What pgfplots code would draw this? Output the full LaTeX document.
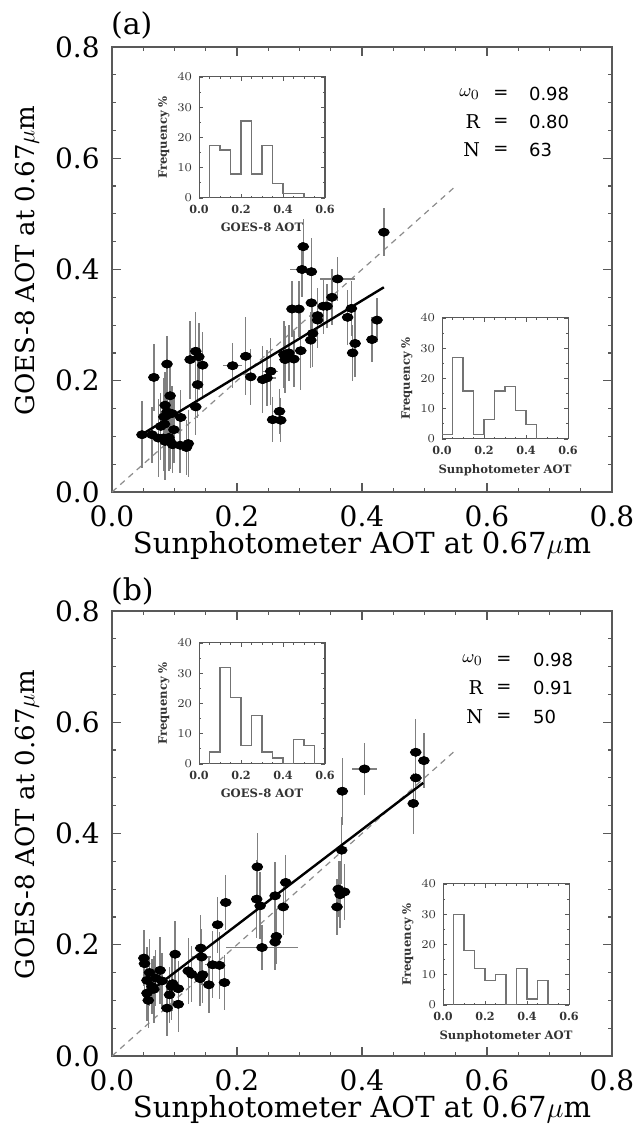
\documentclass[border=0pt]{standalone}
\usepackage{fontspec}
\setmainfont{DejaVu Serif}
\newfontfamily\sansf{DejaVu Sans}
\usepackage{pgfplots}
\usepackage{pgfplotstable}
\pgfplotsset{compat=1.18}

\definecolor{framegray}{gray}{0.35}
\definecolor{errgray}{gray}{0.5}
\definecolor{histgray}{gray}{0.45}
\definecolor{dashgray}{gray}{0.55}

\pgfplotstableread{
x y ex ey
0.048 0.103 0 0.06
0.064 0.103 0 0.05
0.074 0.097 0 0.07
0.082 0.097 0 0.06
0.085 0.091 0 0.07
0.093 0.091 0 0.05
0.109 0.084 0 0.05
0.119 0.080 0 0.05
0.122 0.087 0 0.06
0.067 0.206 0 0.06
0.088 0.230 0 0.05
0.085 0.156 0 0.06
0.083 0.135 0 0.07
0.084 0.122 0 0.06
0.088 0.144 0 0.05
0.093 0.173 0 0.06
0.096 0.141 0 0.05
0.099 0.112 0 0.06
0.110 0.134 0 0.05
0.125 0.238 0 0.07
0.134 0.253 0.005 0.07
0.139 0.243 0 0.06
0.145 0.228 0 0.06
0.137 0.193 0 0.06
0.134 0.153 0 0.05
0.193 0.227 0.015 0.04
0.214 0.244 0 0.07
0.222 0.207 0 0.05
0.241 0.202 0 0.06
0.248 0.205 0.015 0.05
0.254 0.217 0.012 0.06
0.257 0.130 0 0.04
0.268 0.145 0 0.04
0.270 0.129 0 0.04
0.275 0.247 0.01 0.06
0.277 0.238 0.01 0.06
0.291 0.239 0 0.05
0.302 0.254 0 0.07
0.288 0.329 0 0.05
0.299 0.329 0 0.05
0.306 0.441 0 0.05
0.304 0.400 0.02 0.05
0.319 0.396 0 0.06
0.319 0.340 0 0.05
0.321 0.285 0 0.06
0.318 0.273 0 0.05
0.329 0.317 0 0.05
0.329 0.309 0 0.05
0.338 0.334 0 0.05
0.344 0.334 0 0.04
0.352 0.350 0 0.05
0.361 0.383 0.028 0.04
0.377 0.314 0 0.05
0.383 0.330 0 0.05
0.385 0.250 0 0.05
0.389 0.267 0 0.06
0.416 0.274 0 0.04
0.424 0.309 0 0.04
0.435 0.467 0 0.043
0.078 0.118 0 0.06
0.091 0.098 0 0.06
0.097 0.085 0 0.05
0.283 0.250 0 0.05
}\dataA

\pgfplotstableread{
x y ex ey
0.051 0.176 0 0.05
0.052 0.166 0 0.06
0.056 0.136 0 0.06
0.056 0.113 0 0.05
0.060 0.150 0 0.06
0.064 0.125 0 0.05
0.067 0.120 0 0.06
0.070 0.140 0 0.05
0.077 0.154 0 0.06
0.080 0.135 0 0.05
0.088 0.086 0 0.05
0.092 0.110 0 0.05
0.095 0.125 0 0.06
0.058 0.100 0 0.05
0.097 0.130 0 0.05
0.101 0.183 0 0.06
0.106 0.093 0 0.05
0.106 0.121 0 0.05
0.122 0.153 0 0.06
0.1275 0.147 0 0.05
0.141 0.139 0 0.05
0.142 0.194 0 0.06
0.1435 0.178 0.015 0.05
0.145 0.146 0 0.05
0.155 0.128 0 0.05
0.161 0.164 0.012 0.06
0.169 0.236 0 0.05
0.172 0.163 0 0.06
0.180 0.132 0 0.05
0.182 0.276 0 0.05
0.2315 0.282 0 0.07
0.2325 0.340 0 0.06
0.237 0.270 0 0.06
0.240 0.195 0.057 0.04
0.261 0.288 0 0.06
0.261 0.205 0 0.05
0.263 0.215 0 0.05
0.274 0.268 0 0.05
0.278 0.312 0 0.05
0.3675 0.370 0 0.06
0.3685 0.476 0 0.06
0.360 0.268 0 0.05
0.365 0.290 0 0.06
0.372 0.295 0 0.05
0.362 0.300 0 0.05
0.404 0.516 0.02 0.047
0.482 0.454 0 0.055
0.486 0.500 0.01 0.05
0.486 0.546 0 0.06
0.499 0.531 0 0.05
}\dataB

\pgfplotsset{
  mainax/.style={
    scale only axis, width=250pt, height=222.5pt,
    xmin=0, xmax=0.8, ymin=0, ymax=0.8,
    xtick={0,0.2,0.4,0.6,0.8}, ytick={0,0.2,0.4,0.6,0.8},
    xticklabels={0.0,0.2,0.4,0.6,0.8}, yticklabels={0.0,0.2,0.4,0.6,0.8},
    minor x tick num=3, minor y tick num=3,
    tick align=inside, major tick length=4.5pt, minor tick length=2.2pt,
    axis line style={framegray, line width=0.75pt},
    every tick/.style={framegray, line width=0.6pt},
    tick label style={font=\fontsize{14}{14}\selectfont, inner sep=1pt},
    xticklabel style={yshift=-5.5pt},
    yticklabel style={xshift=-5pt},
    xlabel={Sunphotometer AOT at 0.67$\mu$m},
    ylabel={GOES-8 AOT at 0.67$\mu$m},
    xlabel style={font=\fontsize{14.5}{14.5}\selectfont, inner sep=0pt, at={(axis description cs:0.5,-0.121)}, anchor=center},
    ylabel style={font=\fontsize{13}{13}\selectfont, inner sep=0pt, at={(axis description cs:-0.17,0.52)}, anchor=center},
    clip=false,
  },
  inset/.style={
    scale only axis, width=63pt, height=60.5pt,
    xmin=0, xmax=0.6, ymin=0, ymax=40,
    xtick={0,0.2,0.4,0.6}, xticklabels={0.0,0.2,0.4,0.6},
    ytick={0,10,20,30,40},
    minor x tick num=3, minor y tick num=1,
    tick align=inside, major tick length=2.2pt, minor tick length=1.1pt,
    axis line style={framegray, line width=0.5pt},
    every tick/.style={framegray, line width=0.4pt},
    tick label style={font=\fontsize{5.6}{6}\selectfont\bfseries, text=black!80},
    label style={font=\fontsize{5.8}{6}\selectfont\bfseries, text=black!80},
    ylabel={Frequency \%},
    xlabel style={yshift=2pt},
    ylabel style={yshift=-3pt},
  },
  errsty/.style={only marks, mark=none,
    error bars/.cd, x dir=both, x explicit, y dir=both, y explicit,
    error bar style={draw=errgray, line width=0.7pt}, error mark=none},
  ptsty/.style={only marks, mark=*, mark size=2.7pt, mark options={black, fill=black, yscale=0.72}},
  hist/.style={const plot, histgray, line width=0.65pt},
}

\begin{document}
\begin{tikzpicture}
\path[use as bounding box] (0,0) rectangle (320pt,566.5pt);

% ---------------- panel (a) ----------------
\begin{axis}[mainax, at={(56pt,320.5pt)}, anchor=south west]
\addplot[dashgray, dash pattern=on 3pt off 2.5pt, line width=0.6pt] coordinates {(0,0) (0.55,0.55)};
\addplot[errsty] table[x=x, y=y, x error=ex, y error=ey] {\dataA};
\addplot[black, line width=1.2pt] coordinates {(0.05,0.105) (0.435,0.368)};
\addplot[ptsty] table[x=x, y=y] {\dataA};
\end{axis}
\node[anchor=west, font=\fontsize{15}{15}\selectfont] at (52pt,554pt) {(a)};

\node[anchor=east, font=\fontsize{9.5}{9.5}\selectfont] at (243.5pt,519.5pt) {$\omega_0$};
\node[anchor=east, font=\fontsize{9.5}{9.5}\selectfont] at (243.5pt,505.5pt) {R};
\node[anchor=east, font=\fontsize{9.5}{9.5}\selectfont] at (243.5pt,491.5pt) {N};
\node[font=\sansf\fontsize{9}{9}\selectfont] at (250.5pt,519.5pt) {=};
\node[font=\sansf\fontsize{9}{9}\selectfont] at (250.5pt,505.5pt) {=};
\node[font=\sansf\fontsize{9}{9}\selectfont] at (250.5pt,491.5pt) {=};
\node[anchor=west, font=\sansf\fontsize{9}{9}\selectfont] at (261pt,519.5pt) {0.98};
\node[anchor=west, font=\sansf\fontsize{9}{9}\selectfont] at (261pt,505.5pt) {0.80};
\node[anchor=west, font=\sansf\fontsize{9}{9}\selectfont] at (261pt,491.5pt) {63};

\begin{axis}[inset, at={(99.5pt,467.5pt)}, anchor=south west, xlabel={GOES-8 AOT}]
\addplot[hist] coordinates {(0.05,0) (0.05,17.46) (0.10,15.87) (0.15,7.94) (0.20,25.40) (0.25,7.94) (0.30,17.46) (0.35,4.76) (0.40,1.59) (0.45,1.59) (0.50,0)};
\end{axis}
\begin{axis}[inset, at={(221pt,347pt)}, anchor=south west, xlabel={Sunphotometer AOT}]
\addplot[hist] coordinates {(0,1.59) (0.05,26.98) (0.10,15.87) (0.15,1.59) (0.20,6.35) (0.25,15.87) (0.30,17.46) (0.35,9.52) (0.40,4.76) (0.45,0)};
\end{axis}

% ---------------- panel (b) ----------------
\begin{axis}[mainax, at={(56pt,38.5pt)}, anchor=south west]
\addplot[dashgray, dash pattern=on 3pt off 2.5pt, line width=0.6pt] coordinates {(0,0) (0.55,0.55)};
\addplot[errsty] table[x=x, y=y, x error=ex, y error=ey] {\dataB};
\addplot[black, line width=1.2pt] coordinates {(0.05,0.107) (0.498,0.491)};
\addplot[ptsty] table[x=x, y=y] {\dataB};
\end{axis}
\node[anchor=west, font=\fontsize{15}{15}\selectfont] at (52pt,271pt) {(b)};

\node[anchor=east, font=\fontsize{9.5}{9.5}\selectfont] at (245pt,236.5pt) {$\omega_0$};
\node[anchor=east, font=\fontsize{9.5}{9.5}\selectfont] at (245pt,222.5pt) {R};
\node[anchor=east, font=\fontsize{9.5}{9.5}\selectfont] at (245pt,208pt) {N};
\node[font=\sansf\fontsize{9}{9}\selectfont] at (252pt,236.5pt) {=};
\node[font=\sansf\fontsize{9}{9}\selectfont] at (252pt,222.5pt) {=};
\node[font=\sansf\fontsize{9}{9}\selectfont] at (252pt,208pt) {=};
\node[anchor=west, font=\sansf\fontsize{9}{9}\selectfont] at (263pt,236.5pt) {0.98};
\node[anchor=west, font=\sansf\fontsize{9}{9}\selectfont] at (263pt,222.5pt) {0.91};
\node[anchor=west, font=\sansf\fontsize{9}{9}\selectfont] at (263pt,208pt) {50};

\begin{axis}[inset, at={(99.5pt,184.5pt)}, anchor=south west, xlabel={GOES-8 AOT}]
\addplot[hist] coordinates {(0.05,0) (0.05,4) (0.10,32) (0.15,22) (0.20,6) (0.25,16) (0.30,4) (0.35,2) (0.40,0) (0.45,8) (0.50,6) (0.55,0)};
\end{axis}
\begin{axis}[inset, at={(221.5pt,64pt)}, anchor=south west, xlabel={Sunphotometer AOT}]
\addplot[hist] coordinates {(0.05,0) (0.05,30) (0.10,18) (0.15,12) (0.20,8) (0.25,10) (0.30,0) (0.35,12) (0.40,2) (0.45,8) (0.50,0)};
\end{axis}
\end{tikzpicture}
\end{document}
